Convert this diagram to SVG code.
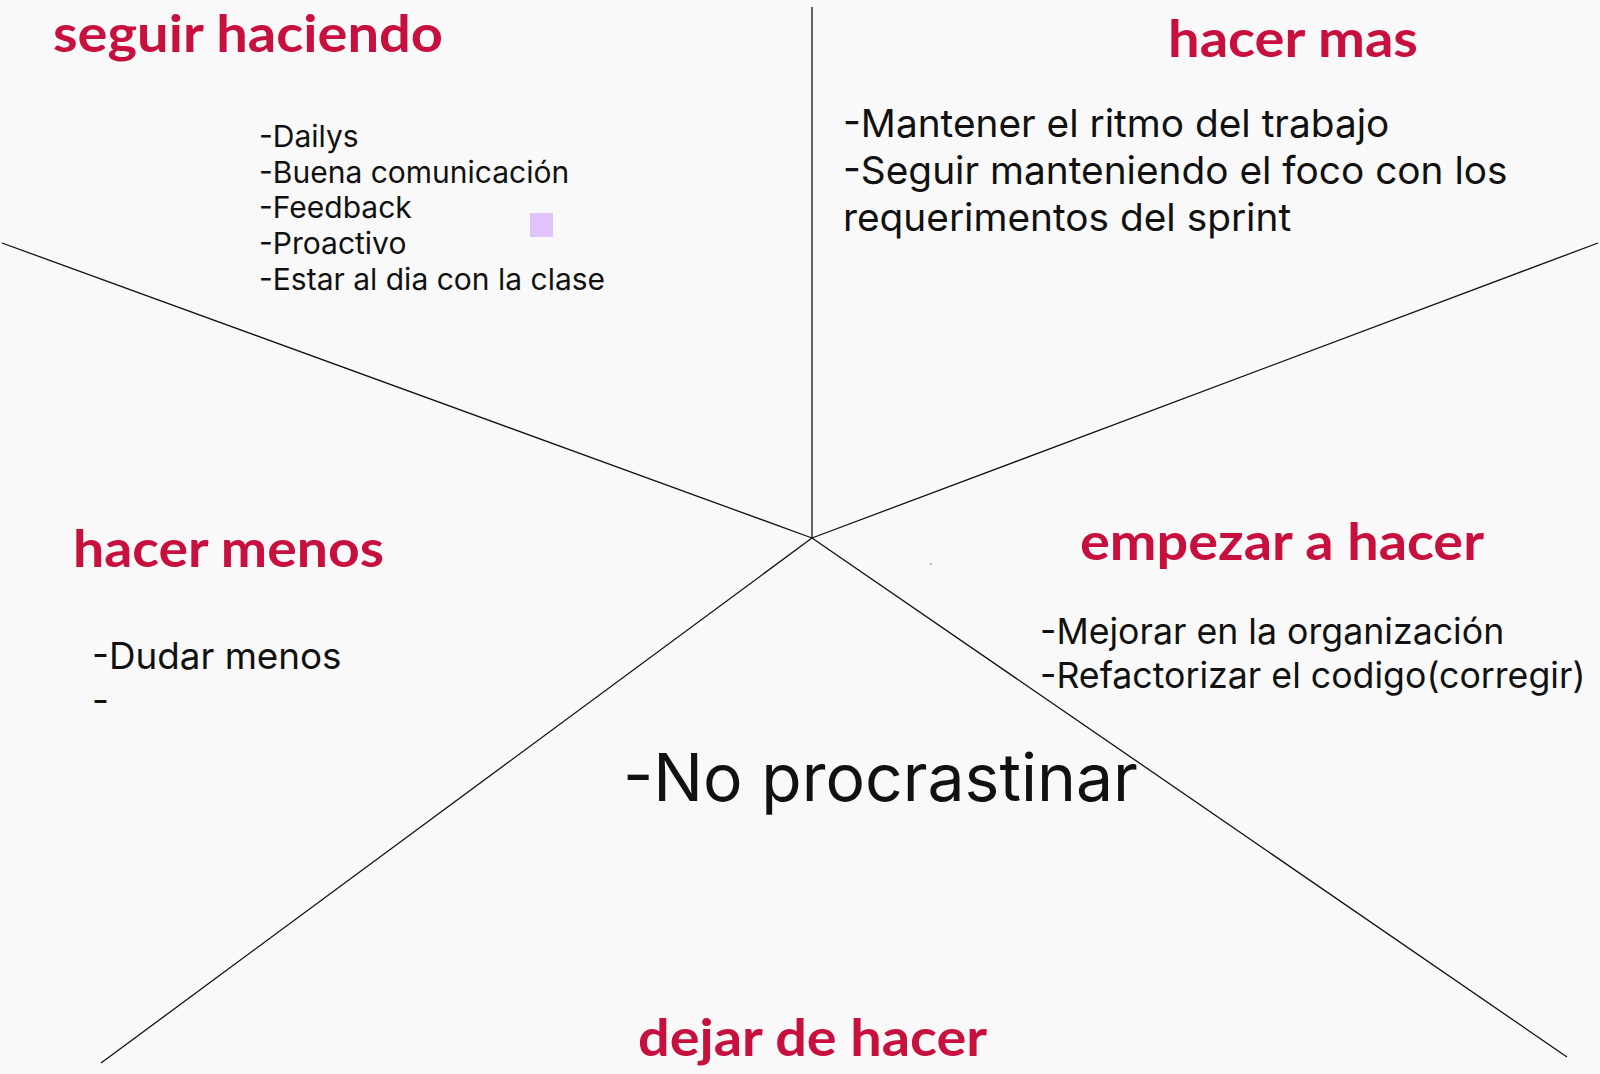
<svg xmlns="http://www.w3.org/2000/svg" width="1600" height="1074" viewBox="0 0 1600 1074">
<style>
.t{font-family:Lato,"Open Sans",sans-serif;font-weight:700;fill:#c8103f;font-size:52px}
.b{font-family:Inter,"Noto Sans",sans-serif;fill:#111;}
.l{stroke:#111;stroke-width:1.3;fill:none}
</style>
<rect width="1600" height="1074" fill="#f9f9f9"/>
<g id="connectors">
<line class="l" x1="812" y1="7" x2="812" y2="538"/>
<line class="l" x1="2" y1="243" x2="812" y2="538"/>
<line class="l" x1="1598" y1="243" x2="812" y2="538"/>
<line class="l" x1="101" y1="1063" x2="812" y2="538"/>
<line class="l" x1="1567" y1="1057" x2="812" y2="538"/>
</g>
<g id="seguir-haciendo">
<text class="t" x="53" y="52" textLength="390" lengthAdjust="spacingAndGlyphs">seguir haciendo</text>
<text class="b" font-size="30" x="259">
<tspan x="259" y="147">-Dailys</tspan>
<tspan x="259" y="183">-Buena comunicación</tspan>
<tspan x="259" y="218">-Feedback</tspan>
<tspan x="259" y="254">-Proactivo</tspan>
<tspan x="259" y="290">-Estar al dia con la clase</tspan>
</text>
<rect x="530" y="213" width="23" height="24" fill="#e0c3fa"/>
</g>
<g id="hacer-mas">
<text class="t" x="1168" y="57" textLength="250" lengthAdjust="spacingAndGlyphs">hacer mas</text>
<text class="b" font-size="38.8" x="843">
<tspan x="843" y="137">-Mantener el ritmo del trabajo</tspan>
<tspan x="843" y="184">-Seguir manteniendo el foco con los</tspan>
<tspan x="843" y="231">requerimentos del sprint</tspan>
</text>
</g>
<g id="hacer-menos">
<text class="t" x="73" y="567" textLength="311" lengthAdjust="spacingAndGlyphs">hacer menos</text>
<text class="b" font-size="36.8" x="92">
<tspan x="92" y="669">-Dudar menos</tspan>
<tspan x="92" y="713">-</tspan>
</text>
</g>
<g id="empezar-a-hacer">
<text class="t" x="1080" y="560" textLength="404" lengthAdjust="spacingAndGlyphs">empezar a hacer</text>
<text class="b" font-size="35.7" x="1040">
<tspan x="1040" y="644">-Mejorar en la organización</tspan>
<tspan x="1040" y="688">-Refactorizar el codigo(corregir)</tspan>
</text>
<rect x="930" y="563" width="1.5" height="2" fill="#aaa"/>
</g>
<g id="dejar-de-hacer">
<text class="t" x="638" y="1056" textLength="349" lengthAdjust="spacingAndGlyphs">dejar de hacer</text>
<text class="b" font-size="66" x="623" y="801">-No procrastinar</text>
</g>
</svg>
